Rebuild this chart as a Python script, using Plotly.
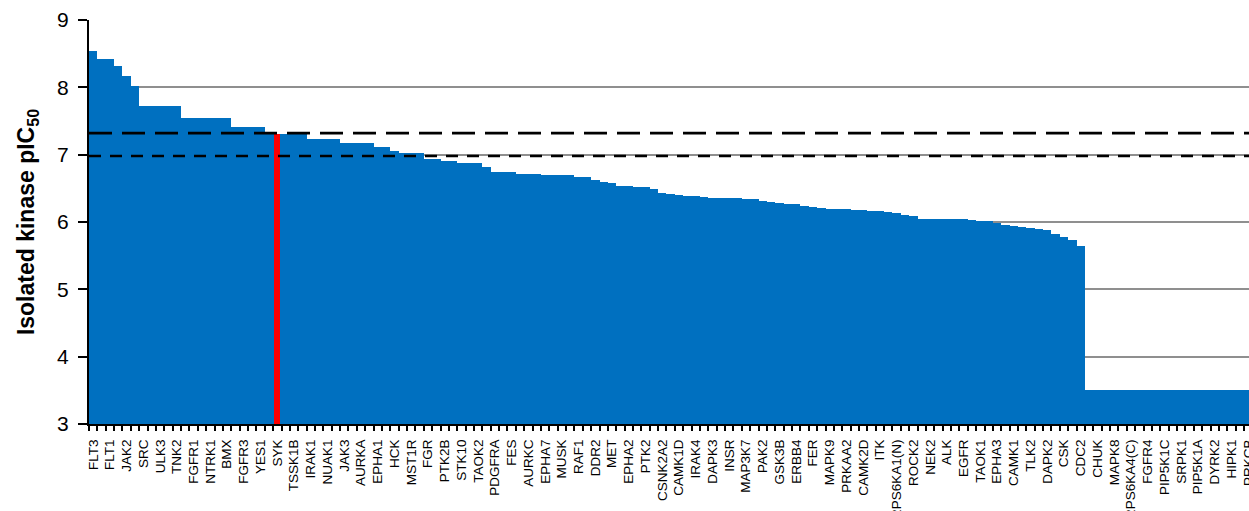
import plotly.graph_objects as go

# Kinase names shown on the axis (every other bar carries a label)
kinase_labels = [
    "FLT3", "FLT1", "JAK2", "SRC", "ULK3", "TNK2", "FGFR1", "NTRK1", "BMX", "FGFR3",
    "YES1", "SYK", "TSSK1B", "IRAK1", "NUAK1", "JAK3", "AURKA", "EPHA1", "HCK", "MST1R",
    "FGR", "PTK2B", "STK10", "TAOK2", "PDGFRA", "FES", "AURKC", "EPHA7", "MUSK", "RAF1",
    "DDR2", "MET", "EPHA2", "PTK2", "CSNK2A2", "CAMK1D", "IRAK4", "DAPK3", "INSR", "MAP3K7",
    "PAK2", "GSK3B", "ERBB4", "FER", "MAPK9", "PRKAA2", "CAMK2D", "ITK", "RPS6KA1(N)", "ROCK2",
    "NEK2", "ALK", "EGFR", "TAOK1", "EPHA3", "CAMK1", "TLK2", "DAPK2", "CSK", "CDC2",
    "CHUK", "MAPK8", "RPS6KA4(C)", "FGFR4", "PIP5K1C", "SRPK1", "PIP5K1A", "DYRK2", "HIPK1", "PRKCB",
]

# Isolated kinase pIC50 for every bar, sorted high to low
pic50 = [
    8.54, 8.42, 8.42, 8.32, 8.17, 8.02, 7.72, 7.72, 7.72, 7.72,
    7.72, 7.54, 7.54, 7.54, 7.54, 7.54, 7.54, 7.41, 7.41, 7.41,
    7.41, 7.33, 7.31, 7.31, 7.31, 7.31, 7.24, 7.24, 7.24, 7.24,
    7.17, 7.17, 7.17, 7.17, 7.11, 7.11, 7.06, 7.02, 7.02, 7.02,
    6.94, 6.94, 6.90, 6.90, 6.87, 6.87, 6.87, 6.81, 6.74, 6.74,
    6.74, 6.72, 6.72, 6.72, 6.70, 6.70, 6.70, 6.70, 6.67, 6.67,
    6.63, 6.60, 6.58, 6.54, 6.54, 6.52, 6.52, 6.49, 6.43, 6.41,
    6.40, 6.38, 6.38, 6.37, 6.36, 6.36, 6.36, 6.35, 6.34, 6.34,
    6.31, 6.29, 6.28, 6.26, 6.26, 6.24, 6.22, 6.21, 6.20, 6.20,
    6.19, 6.18, 6.18, 6.17, 6.16, 6.15, 6.14, 6.11, 6.09, 6.05,
    6.05, 6.05, 6.05, 6.045, 6.04, 6.03, 6.02, 6.01, 5.98, 5.96,
    5.94, 5.93, 5.91, 5.89, 5.875, 5.82, 5.77, 5.74, 5.65, 3.5,
    3.5, 3.5, 3.5, 3.5, 3.5, 3.5, 3.5, 3.5, 3.5, 3.5,
    3.5, 3.5, 3.5, 3.5, 3.5, 3.5, 3.5, 3.5, 3.5, 3.5,
]

highlight = "SYK"
thresholds = [7.32, 6.98]   # long dash, short dash
y_ticks = [3, 4, 5, 6, 7, 8, 9]

BLUE = "#0070C0"
RED = "#FF0000"
FONT = "Arial, Liberation Sans, sans-serif"

x = list(range(len(pic50)))
hi = 2 * kinase_labels.index(highlight)

tickvals = list(range(0, 2 * len(kinase_labels), 2))
boundaries = [i - 0.5 for i in range(len(pic50) + 1)]

fig = go.Figure()
fig.add_trace(go.Bar(
    x=x, y=pic50, marker=dict(color=BLUE, line=dict(width=0)),
    width=1.0, showlegend=False, hoverinfo="skip",
))
fig.add_trace(go.Bar(
    x=[hi], y=[pic50[hi]], marker=dict(color=RED, line=dict(width=0)),
    width=0.72, showlegend=False, hoverinfo="skip",
))

for val, dash in zip(thresholds, ["23px,10px", "12px,9px"]):
    fig.add_shape(
        type="line", xref="paper", x0=0, x1=1, yref="y", y0=val, y1=val,
        line=dict(color="black", width=2.6, dash=dash), layer="above",
    )

fig.update_layout(
    width=1249, height=511,
    margin=dict(l=89, r=0, t=20, b=87, pad=0, autoexpand=False),
    paper_bgcolor="white", plot_bgcolor="white",
    barmode="overlay", bargap=0,
    font=dict(family=FONT, color="black"),
    xaxis=dict(
        range=[-0.5, 138.1], automargin=False,
        tickmode="array", tickvals=tickvals, ticktext=kinase_labels,
        tickangle=-90, tickfont=dict(size=13.5, family=FONT, color="black"),
        ticks="", ticklabelstandoff=8, ticklabeloverflow="allow",
        minor=dict(tickmode="array", tickvals=boundaries, ticks="outside",
                   ticklen=5, tickwidth=2, tickcolor="black"),
        showline=True, linecolor="black", linewidth=2,
        showgrid=False, zeroline=False,
    ),
    yaxis=dict(
        range=[3, 9], tickmode="array", tickvals=y_ticks, automargin=False,
        tickfont=dict(size=21, family=FONT, color="black"),
        ticks="outside", ticklen=9, tickwidth=2, tickcolor="black",
        ticklabelstandoff=5,
        showline=True, linecolor="black", linewidth=2,
        showgrid=True, gridcolor="#8f8f8f", gridwidth=2, zeroline=False,
        title=dict(text="<b>Isolated kinase pIC<sub>50</sub></b>",
                   font=dict(size=23, family=FONT, color="black"), standoff=16),
    ),
)

fig.write_html("out.html")
